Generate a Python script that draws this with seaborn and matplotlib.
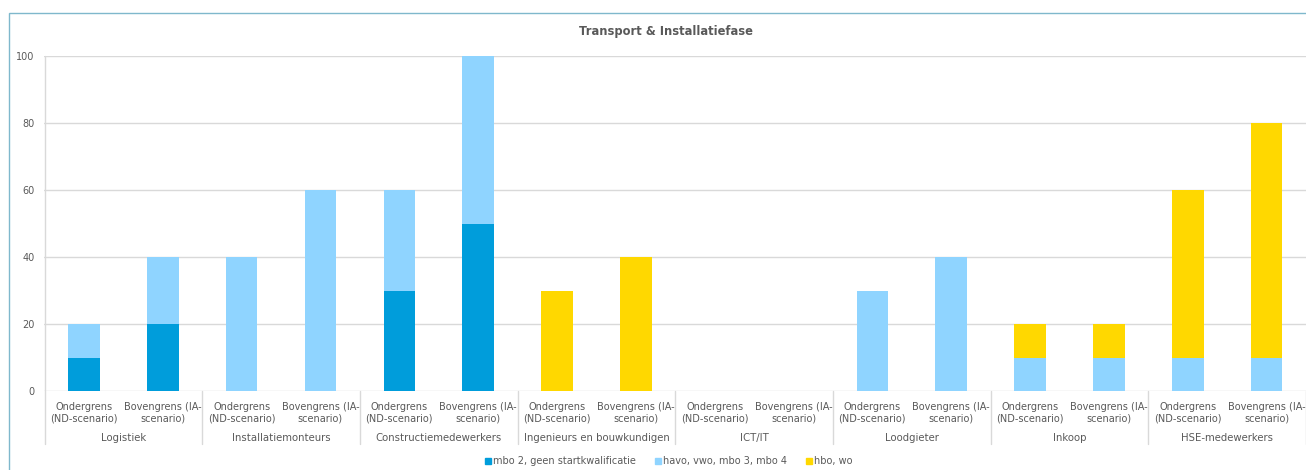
import matplotlib
matplotlib.use("Agg")
import matplotlib.pyplot as plt
from matplotlib.lines import Line2D
from matplotlib.patches import Rectangle
import seaborn as sns
import pandas as pd
import numpy as np

# ---- data ----
groups = ["Logistiek", "Installatiemonteurs", "Constructiemedewerkers",
          "Ingenieurs en bouwkundigen", "ICT/IT", "Loodgieter", "Inkoop",
          "HSE-medewerkers"]
scenarios = ["Ondergrens\n(ND-scenario)", "Bovengrens (IA-\nscenario)"]
series_names = ["mbo 2, geen startkwalificatie", "havo, vwo, mbo 3, mbo 4", "hbo, wo"]
# values per bar, ordered group by group: (Ondergrens, Bovengrens)
mbo2 = [10, 20, 0, 0, 30, 50, 0, 0, 0, 0, 0, 0, 0, 0, 0, 0]
havo = [10, 20, 40, 60, 30, 50, 0, 0, 0, 0, 30, 40, 10, 10, 10, 10]
hbo = [0, 0, 0, 0, 0, 0, 30, 40, 0, 0, 0, 0, 10, 10, 50, 70]
title = "Transport & Installatiefase"
yticks = [0, 20, 40, 60, 80, 100]

colors = ["#009DDB", "#8FD4FF", "#FFD800"]
text_col = "#595959"
grid_col = "#D9D9D9"

keys = [f"{g}|{i}" for g in groups for i in range(len(scenarios))]
df = pd.DataFrame({
    "key": keys,
    "mbo2": mbo2,
    "havo": havo,
    "hbo": hbo,
})
df["lvl1"] = df["mbo2"]
df["lvl2"] = df["mbo2"] + df["havo"]
df["lvl3"] = df["mbo2"] + df["havo"] + df["hbo"]

sns.set_style("white")
plt.rcParams["font.family"] = ["DejaVu Sans"]

W, H = 1306, 470
fig = plt.figure(figsize=(W / 100, H / 100), dpi=100)
ax_left, ax_right = 44.5, 1306
ax_top, ax_bot = 56, 391
ax = fig.add_axes([ax_left / W, 1 - ax_bot / H, (ax_right - ax_left) / W, (ax_bot - ax_top) / H])

for col, c in zip(["lvl3", "lvl2", "lvl1"], [colors[2], colors[1], colors[0]]):
    sns.barplot(data=df, x="key", y=col, order=keys, color=c, width=0.4,
                saturation=1, errorbar=None, ax=ax, zorder=3, linewidth=0)

n = len(keys)
ax.set_xlim(-0.5, n - 0.5)
ax.set_ylim(0, 100)
ax.set_yticks(yticks)
ax.set_yticklabels([str(v) for v in yticks], fontsize=7, color=text_col)
ax.tick_params(axis="y", length=0, pad=7)
ax.set_xticks([])
ax.set_xlabel("")
ax.set_ylabel("")
for s in ax.spines.values():
    s.set_visible(False)
ax.yaxis.grid(True, color=grid_col, linewidth=1)
ax.set_axisbelow(True)

trans = ax.get_xaxis_transform()
axh = ax_bot - ax_top
sep_bottom = -53 / axh
# separators
for b in range(len(groups) + 1):
    xb = -0.5 + b * len(scenarios)
    ytop = 1 if b == 0 else 0
    ax.add_line(Line2D([xb, xb], [ytop, sep_bottom], transform=trans,
                       color=grid_col, linewidth=1, clip_on=False, zorder=1))
# sub labels and group labels
for i, k in enumerate(keys):
    ax.text(i, -11 / axh, scenarios[i % len(scenarios)], transform=trans,
            ha="center", va="top", fontsize=7, color=text_col, linespacing=1.15)
for gi, g in enumerate(groups):
    xc = gi * len(scenarios) + (len(scenarios) - 1) / 2
    ax.text(xc, -47 / axh, g, transform=trans, ha="center", va="center",
            fontsize=7.3, color=text_col)

# title
fig.text(666 / W, 1 - 31 / H, title, ha="center", va="center",
         fontsize=8.3, fontweight="bold", color=text_col)

# legend
handles = [Line2D([], [], marker="s", linestyle="none", markersize=5,
                  markerfacecolor=c, markeredgecolor=c) for c in colors]
fig.legend(handles, series_names, loc="center", bbox_to_anchor=(669 / W, 1 - 461 / H),
           ncol=3, frameon=False, fontsize=7, handlelength=0.6, handletextpad=0.2,
           columnspacing=2.0, labelcolor=text_col)

# outer chart border (partially visible)
fig.patches.append(Rectangle((9 / W, -0.1), 1.2, (H - 13) / H + 0.1,
                             transform=fig.transFigure, fill=False,
                             edgecolor="#7FB8CC", linewidth=1))

fig.savefig("out.png", dpi=100)
